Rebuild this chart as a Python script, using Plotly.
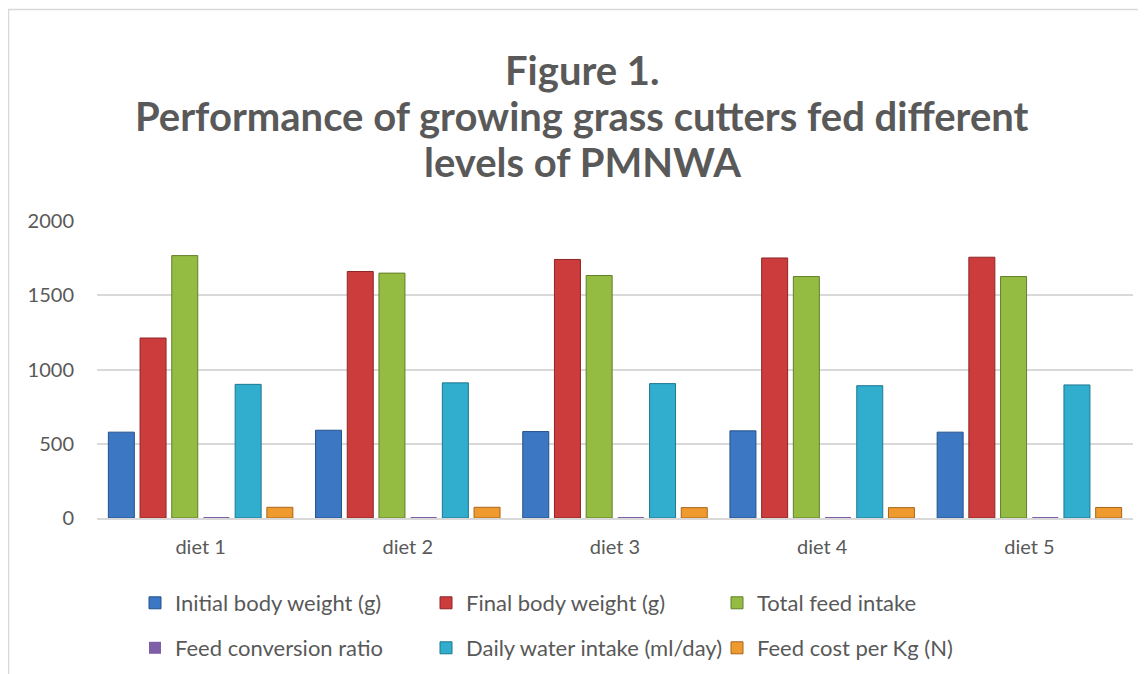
import plotly.graph_objects as go

categories = ["diet 1", "diet 2", "diet 3", "diet 4", "diet 5"]
initial_body_weight = [578, 591, 582, 587, 578]
final_body_weight = [1212, 1660, 1741, 1751, 1756]
total_feed_intake = [1767, 1649, 1633, 1626, 1626]
feed_conversion_ratio = [3.1, 2.6, 2.4, 2.3, 2.3]
daily_water_intake = [900, 910, 905, 891, 896]
feed_cost_per_kg = [72, 72, 70, 70, 71]

series_names = [
    "Initial body weight (g)",
    "Final body weight (g)",
    "Total feed intake",
    "Feed conversion ratio",
    "Daily water intake (ml/day)",
    "Feed cost per Kg (N)",
]
series_values = [
    initial_body_weight,
    final_body_weight,
    total_feed_intake,
    feed_conversion_ratio,
    daily_water_intake,
    feed_cost_per_kg,
]
title_lines = [
    "Figure 1.",
    "Performance of growing grass cutters fed different",
    "levels of PMNWA",
]

fill_colors = ["#3B77C2", "#CC3C3C", "#94BB42", "#7E5EA6", "#31ADCE", "#EE9A2E"]
edge_colors = ["#25528A", "#8E2626", "#627F2A", "#55407A", "#1F7891", "#A9661A"]
edge_widths = [1, 1, 1, 0, 1, 1]

font_family = "Lato, 'Open Sans', sans-serif"
gray = "#595959"

# the page has the default 8px body margin
OFF = 8
W, H = 1146 - OFF, 674 - OFF
PL, PR, PT, PB = 97, 1133, 221, 518  # plot area in page pixels


def px_x(x):
    return (x - PL) / (PR - PL)


def px_y(y):
    return (PB - y) / (PB - PT)


def cont_y(y):
    return 1 - (y - OFF) / H


fig = go.Figure()
for i, (name, vals) in enumerate(zip(series_names, series_values)):
    fig.add_trace(go.Bar(
        x=categories, y=vals, name=name,
        marker=dict(color=fill_colors[i],
                    line=dict(color=edge_colors[i], width=edge_widths[i])),
        legend="legend" if i < 3 else "legend2",
    ))

title_y = [70, 116, 162]
annotations = [
    dict(text=t, xref="paper", yref="paper", x=px_x(582), y=px_y(yy),
         xanchor="center", yanchor="middle", showarrow=False,
         font=dict(family=font_family, size=40, color=gray, weight="bold"))
    for t, yy in zip(title_lines, title_y)
]

legend_common = dict(
    orientation="h", xref="paper", x=px_x(135), xanchor="left",
    yanchor="middle", entrywidth=246, entrywidthmode="pixels",
    font=dict(size=22, color=gray, family=font_family),
    bgcolor="rgba(0,0,0,0)", itemclick=False, itemdoubleclick=False,
)

fig.update_layout(
    width=W, height=H,
    paper_bgcolor="white", plot_bgcolor="white",
    margin=dict(l=PL - OFF, r=W - (PR - OFF), t=PT - OFF, b=H - (PB - OFF),
                autoexpand=False),
    barmode="group", bargap=0.082, bargroupgap=0.18,
    font=dict(family=font_family, color=gray, size=20),
    annotations=annotations,
    xaxis=dict(
        showline=True, linecolor="#D9D9D9", linewidth=2,
        showgrid=False, ticks="", ticklabelstandoff=10, automargin=False,
        tickfont=dict(size=20, color=gray),
    ),
    yaxis=dict(
        range=[0, 2000], dtick=500, showgrid=True,
        gridcolor="#D9D9D9", gridwidth=1.5, zeroline=False,
        showline=False, ticks="", ticklabelstandoff=22, automargin=False,
        tickfont=dict(size=20, color=gray),
    ),
    legend=dict(legend_common, yref="container", y=cont_y(603)),
    legend2=dict(legend_common, yref="container", y=cont_y(648)),
    shapes=[dict(
        type="rect", xref="paper", yref="paper",
        x0=px_x(8.5), x1=px_x(1200), y0=px_y(700), y1=px_y(9.5),
        line=dict(color="#D9D9D9", width=1.5), fillcolor="rgba(0,0,0,0)",
        layer="below",
    )],
)

fig.write_html("out.html")
